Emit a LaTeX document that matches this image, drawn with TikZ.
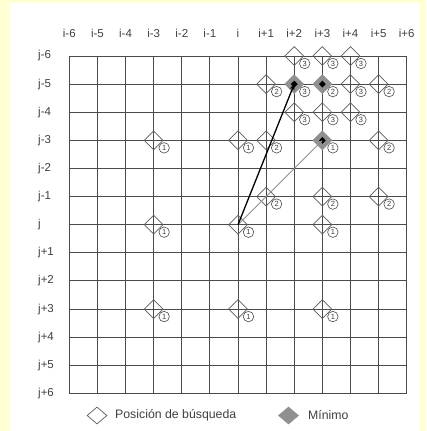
\documentclass[tikz,border=0pt]{standalone}
\usepackage{fontspec}
\setmainfont{Liberation Sans}
\usetikzlibrary{shapes.geometric,arrows.meta}
\definecolor{bgyellow}{HTML}{FFFFD2}
\definecolor{gridc}{HTML}{4A4A4A}
\definecolor{txtc}{HTML}{404040}
\definecolor{minfill}{HTML}{909090}
\tikzset{
  lbl/.style={text=txtc,font=\fontsize{11.5}{13}\selectfont,inner sep=0pt},
  legtxt/.style={text=txtc,font=\fontsize{12.3}{14}\selectfont,inner sep=0pt,anchor=west},
  gridline/.style={gridc,line width=0.9pt},
  srch/.style={diamond,draw=gridc!90,line width=0.7pt,inner sep=0pt,minimum width=19pt,minimum height=19pt},
  minpos/.style={diamond,draw=minfill,fill=minfill,line width=0.7pt,inner sep=0pt,minimum width=19pt,minimum height=19pt},
  core/.style={diamond,fill=black,inner sep=0pt,minimum width=7pt,minimum height=7pt},
  num/.style={circle,draw=gridc,fill=white,line width=0.6pt,inner sep=0pt,minimum size=10.5pt,text=txtc,font=\fontsize{7.5}{8}\selectfont,xshift=10.5pt,yshift=-7.5pt}
}
\begin{document}
\begin{tikzpicture}[x=1pt,y=-1pt]
\useasboundingbox (0,0) rectangle (426,431);
\fill[bgyellow] (0,0) rectangle (426,431);
\fill[white] (10,3) rectangle (420,431);
% column and row labels
\foreach \k/\t in {-6/i-6,-5/i-5,-4/i-4,-3/i-3,-2/i-2,-1/i-1,0/i,1/i+1,2/i+2,3/i+3,4/i+4,5/i+5,6/i+6}{
  \node[lbl] (col\k) at (238+28.12*\k,33) {\t};
}
\foreach \k/\t in {-6/j-6,-5/j-5,-4/j-4,-3/j-3,-2/j-2,-1/j-1,0/j,1/j+1,2/j+2,3/j+3,4/j+4,5/j+5,6/j+6}{
  \node[lbl,anchor=west] (row\k) at (38,224.7+28.12*\k) {\t};
}
\begin{scope}[shift={(238,224.7)},x=28.12pt,y=-28.12pt]
  \foreach \k in {-6,...,6}{
    \draw[gridline] (\k,-6) -- (\k,6);
    \draw[gridline] (-6,\k) -- (6,\k);
  }
  % step 1
  \foreach \c/\r in {-3/-3,0/-3,-3/0,0/0,3/0,-3/3,0/3,3/3}{
    \node[srch] (d\c x\r) at (\c,\r) {};
    \node[num] (n\c x\r) at (\c,\r) {1};
  }
  % step 2
  \foreach \c/\r in {1/-5,5/-5,1/-3,5/-3,1/-1,3/-1,5/-1}{
    \node[srch] (d\c x\r) at (\c,\r) {};
    \node[num] (n\c x\r) at (\c,\r) {2};
  }
  % step 3
  \foreach \c/\r in {2/-6,3/-6,4/-6,4/-5,2/-4,3/-4,4/-4}{
    \node[srch] (d\c x\r) at (\c,\r) {};
    \node[num] (n\c x\r) at (\c,\r) {3};
  }
  % minima
  \foreach \c/\r/\s in {3/-3/1,3/-5/2,2/-5/3}{
    \node[minpos] (m\c x\r) at (\c,\r) {};
    \node[core] (k\c x\r) at (\c,\r) {};
    \node[num] (q\c x\r) at (\c,\r) {\s};
  }
  \draw[minfill,line width=0.8pt,-{Stealth[length=6pt,width=5pt]}] (d0x0.center) -- (m3x-3.center);
  \draw[black,line width=1.3pt,-{Stealth[length=6pt,width=5pt]}] (d0x0.center) -- (m2x-5.center);
\end{scope}
% legend
\node[srch,minimum width=20pt,minimum height=17pt] (legA) at (97,415.5) {};
\node[legtxt] (legAt) at (115,415.5) {Posición de búsqueda};
\node[minpos,minimum width=20pt,minimum height=17pt] (legB) at (288.5,415.5) {};
\node[legtxt] (legBt) at (308,415.5) {Mínimo};
\end{tikzpicture}
\end{document}
